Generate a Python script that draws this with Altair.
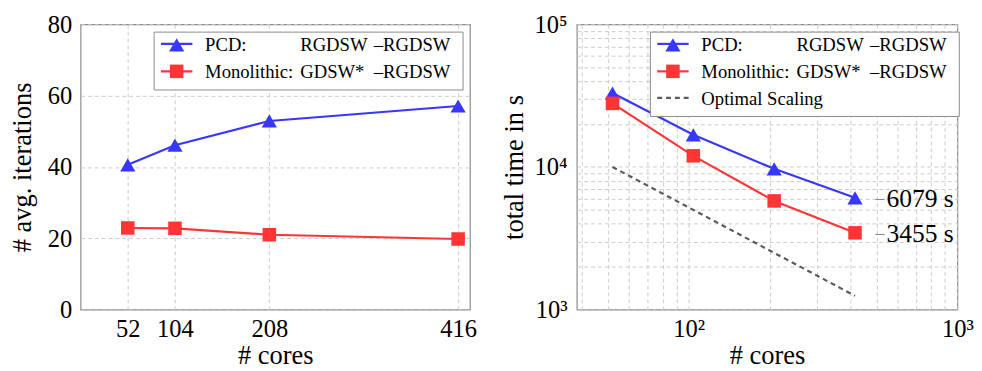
import altair as alt
import pandas as pd

# ---------------- data ----------------
cores = [52, 104, 208, 416]
series = ["PCD", "Monolithic"]
pcd_iters = [40.6, 46.1, 52.9, 57.1]
mono_iters = [22.9, 22.8, 21.0, 19.8]
pcd_time = [33000, 16800, 9700, 6079]
mono_time = [27900, 11970, 5780, 3455]
optimal_time = [10000, 5000, 2500, 1250]
annot_labels = ["6079 s", "3455 s"]

left_x_ticks = [52, 104, 208, 416]
left_y_ticks = [0, 5, 10, 15, 20, 25, 30, 35, 40, 45, 50, 55, 60, 65, 70, 75, 80]
left_y_labels = {0: "0", 20: "20", 40: "40", 60: "60", 80: "80"}
right_x_ticks = [40, 50, 60, 70, 80, 90, 100, 200, 300, 400, 500, 600, 700, 800, 900, 1000]
right_x_labels = {100: "10²", 1000: "10³"}
right_y_ticks = [1000, 2000, 3000, 4000, 5000, 6000, 7000, 8000, 9000,
                 10000, 20000, 30000, 40000, 50000, 60000, 70000, 80000, 90000, 100000]
right_y_labels = {1000: "10³", 10000: "10⁴", 100000: "10⁵"}

legend_col1 = ["PCD:", "Monolithic:", "Optimal Scaling"]
legend_col2 = ["RGDSW", "GDSW*"]
legend_col3 = ["–RGDSW", "–RGDSW"]

# ---------------- style ----------------
FONT = "Liberation Serif"
BLUE = "#3737ff"
RED = "#ff3535"
DASHGRAY = "#5a5a5a"
GRID = "#cccccc"
W_L, W_R, H = 397, 388, 291
TRI, SQ = 240, 190


def label_expr(mapping):
    parts = [f"datum.value === {k} ? '{v}'" for k, v in mapping.items()]
    return " : ".join(parts) + " : ''"


def axis(values, title, mapping=None, **kw):
    args = dict(
        values=values, title=title, grid=True, gridDash=[4, 3], gridColor=GRID,
        gridWidth=1, ticks=False, domain=False, labelFont=FONT, titleFont=FONT,
        labelFontSize=25, titleFontSize=27, labelColor="black", titleColor="black",
        titleFontWeight="normal", labelOverlap=False, labelFlush=False,
    )
    if mapping is not None:
        args["labelExpr"] = label_expr(mapping)
    args.update(kw)
    return alt.Axis(**args)


left_df = pd.DataFrame({
    "cores": cores * 2,
    "value": pcd_iters + mono_iters,
    "series": [series[0]] * 4 + [series[1]] * 4,
})
right_df = pd.DataFrame({
    "cores": cores * 2,
    "value": pcd_time + mono_time,
    "series": [series[0]] * 4 + [series[1]] * 4,
})
opt_df = pd.DataFrame({"cores": cores, "value": optimal_time})
annot_df = pd.DataFrame({
    "cores": [cores[-1], cores[-1]],
    "value": [pcd_time[-1], mono_time[-1]],
    "label": annot_labels,
})

color_scale = alt.Scale(domain=series, range=[BLUE, RED])
shape_scale = alt.Scale(domain=series, range=["triangle-up", "square"])
one = pd.DataFrame({"a": [0]})


def legend_layers(n_rows):
    layers = []
    box_h = 59 if n_rows == 2 else 86
    layers.append(alt.Chart(one).mark_rect(fill="white", stroke="#8a8a8a", strokeWidth=1).encode(
        x=alt.value(75), x2=alt.value(390), y=alt.value(8), y2=alt.value(8 + box_h)))
    rows_y = [20, 48, 75]
    cols = [BLUE, RED]
    shapes = ["triangle-up", "square"]
    sizes = [TRI, SQ]
    for i in range(n_rows):
        yy = rows_y[i]
        if i < 2:
            layers.append(alt.Chart(one).mark_rule(color=cols[i], strokeWidth=2.2).encode(
                x=alt.value(82), x2=alt.value(114), y=alt.value(yy)))
            layers.append(alt.Chart(one).mark_point(
                shape=shapes[i], filled=True, opacity=1, color=cols[i], size=sizes[i]).encode(
                x=alt.value(98), y=alt.value(yy + (1 if i == 0 else 0))))
            for txt, xx in [(legend_col1[i], 127), (legend_col2[i], 224), (legend_col3[i], 299)]:
                layers.append(alt.Chart(one).mark_text(
                    text=txt, font=FONT, fontSize=19, align="left", baseline="middle",
                    color="black").encode(x=alt.value(xx), y=alt.value(yy + 1)))
        else:
            layers.append(alt.Chart(one).mark_rule(color=DASHGRAY, strokeWidth=2.2,
                                                   strokeDash=[5, 4]).encode(
                x=alt.value(82), x2=alt.value(114), y=alt.value(yy)))
            layers.append(alt.Chart(one).mark_text(
                text=legend_col1[i], font=FONT, fontSize=19, align="left", baseline="middle",
                color="black").encode(x=alt.value(127), y=alt.value(yy + 1)))
    return layers


# ---------------- left panel ----------------
xl = alt.X("cores:Q", scale=alt.Scale(domain=[0, 429], nice=False, zero=False),
           axis=axis(left_x_ticks, "# cores", labelPadding=7, titlePadding=2))
yl = alt.Y("value:Q", scale=alt.Scale(domain=[0, 80], nice=False),
           axis=axis(left_y_ticks, "# avg. iterations", left_y_labels,
                     labelPadding=9, titlePadding=11))

left_base = alt.Chart(left_df)
left_lines = left_base.mark_line(strokeWidth=2.2).encode(
    x=xl, y=yl, color=alt.Color("series:N", scale=color_scale, legend=None),
    detail="series:N")
left_pts = left_base.mark_point(filled=True, opacity=1).encode(
    x="cores:Q", y="value:Q",
    color=alt.Color("series:N", scale=color_scale, legend=None),
    shape=alt.Shape("series:N", scale=shape_scale, legend=None),
    size=alt.Size("series:N", scale=alt.Scale(domain=series, range=[TRI, SQ]), legend=None))

left = alt.layer(left_lines, left_pts, *legend_layers(2)).properties(width=W_L, height=H)

# ---------------- right panel ----------------
xr = alt.X("cores:Q", scale=alt.Scale(type="log", domain=[38.3, 1000], nice=False),
           axis=axis(right_x_ticks, "# cores", right_x_labels, labelPadding=7, titlePadding=2))
yr = alt.Y("value:Q", scale=alt.Scale(type="log", domain=[1000, 100000], nice=False),
           axis=axis(right_y_ticks, "total time in s", right_y_labels,
                     labelPadding=10, titlePadding=6))

right_base = alt.Chart(right_df)
opt_line = alt.Chart(opt_df).mark_line(color=DASHGRAY, strokeWidth=2.2, strokeDash=[5, 4]).encode(
    x=xr, y=yr)
right_lines = right_base.mark_line(strokeWidth=2.2).encode(
    x="cores:Q", y="value:Q",
    color=alt.Color("series:N", scale=color_scale, legend=None), detail="series:N")
right_pts = right_base.mark_point(filled=True, opacity=1).encode(
    x="cores:Q", y="value:Q",
    color=alt.Color("series:N", scale=color_scale, legend=None),
    shape=alt.Shape("series:N", scale=shape_scale, legend=None),
    size=alt.Size("series:N", scale=alt.Scale(domain=series, range=[TRI, SQ]), legend=None))
annot_dash = alt.Chart(annot_df).mark_text(
    text="–", font=FONT, fontSize=18, color="#888888", align="left", baseline="middle", dx=21
).encode(x="cores:Q", y="value:Q")
annot = alt.Chart(annot_df).mark_text(
    font=FONT, fontSize=26, color="black", align="left", baseline="middle", dx=32, dy=1
).encode(x="cores:Q", y="value:Q", text="label:N")

right = alt.layer(opt_line, right_lines, right_pts, annot_dash, annot,
                  *legend_layers(3)).properties(width=W_R, height=H)

chart = alt.hconcat(left, right, spacing=22).properties(
    padding={"left": 0, "top": 0, "right": 0, "bottom": 0},
    background="white",
).configure_view(stroke="#8a8a8a", strokeWidth=1.2)

chart.save("out.html", embed_options={"renderer": "svg", "actions": False})
